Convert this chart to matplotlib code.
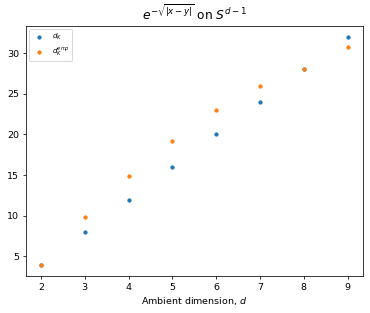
import matplotlib
matplotlib.use("Agg")
import matplotlib.pyplot as plt

dims = [2, 3, 4, 5, 6, 7, 8, 9]
d_k = [4, 8, 12, 16, 20, 24, 28, 32]
d_k_emp = [4.0, 9.8, 14.9, 19.2, 23.0, 26.0, 28.0, 30.7]

DPI = 68
fig, ax = plt.subplots(figsize=(370 / DPI, 313 / DPI), dpi=DPI)
fig.subplots_adjust(left=25.5 / 370, right=363 / 370, top=1 - 25.5 / 313, bottom=1 - 276 / 313)

ax.scatter(dims, d_k, s=12, label=r"$d_K$")
ax.scatter(dims, d_k_emp, s=12, label=r"$d_K^{emp}$")

ax.set_xlabel(r"Ambient dimension, $d$")
ax.set_title(r"$e^{-\sqrt{|x-y|}}$ on $S^{d-1}$", fontsize=13)
ax.legend(loc="upper left", fontsize=7.5)

fig.savefig("out.png")
